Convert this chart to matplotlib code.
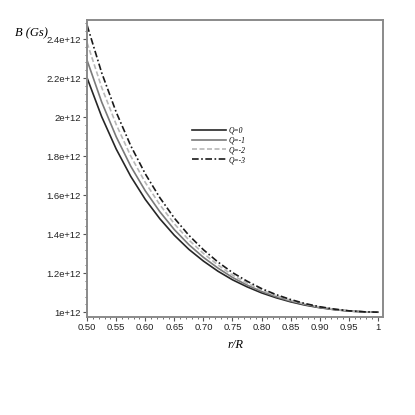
import matplotlib
matplotlib.use("Agg")
from matplotlib import pyplot as plt
from matplotlib.ticker import MultipleLocator, FixedLocator

# r/R grid and field values (units of 1e12 Gs)
r_over_R = [0.500, 0.525, 0.550, 0.575, 0.600, 0.625, 0.650, 0.675, 0.700, 0.725,
            0.750, 0.775, 0.800, 0.825, 0.850, 0.875, 0.900, 0.925, 0.950, 0.975, 1.000]
b_q0 = [2.200, 2.002, 1.836, 1.696, 1.578, 1.479, 1.394, 1.322, 1.262, 1.210, 1.166,
        1.130, 1.099, 1.074, 1.053, 1.036, 1.023, 1.013, 1.006, 1.002, 1.000]
b_q1 = [2.290, 2.077, 1.899, 1.748, 1.622, 1.515, 1.423, 1.346, 1.281, 1.226, 1.178,
        1.139, 1.106, 1.079, 1.057, 1.039, 1.025, 1.014, 1.006, 1.002, 1.000]
b_q2 = [2.380, 2.152, 1.962, 1.800, 1.665, 1.551, 1.453, 1.370, 1.301, 1.242, 1.190,
        1.149, 1.114, 1.085, 1.061, 1.042, 1.026, 1.015, 1.007, 1.002, 1.000]
b_q3 = [2.470, 2.227, 2.025, 1.853, 1.709, 1.587, 1.482, 1.394, 1.320, 1.257, 1.203,
        1.159, 1.121, 1.090, 1.065, 1.044, 1.028, 1.016, 1.007, 1.002, 1.000]
labels = ["Q=0", "Q=-1", "Q=-2", "Q=-3"]

x_ticks = [0.50, 0.55, 0.60, 0.65, 0.70, 0.75, 0.80, 0.85, 0.90, 0.95, 1.0]
x_tick_labels = ["0.50", "0.55", "0.60", "0.65", "0.70", "0.75", "0.80", "0.85", "0.90", "0.95", "1"]
y_ticks = [1.0e12, 1.2e12, 1.4e12, 1.6e12, 1.8e12, 2.0e12, 2.2e12, 2.4e12]
y_tick_labels = ["1e+12", "1.2e+12", "1.4e+12", "1.6e+12", "1.8e+12", "2e+12", "2.2e+12", "2.4e+12"]


def main():
    fig = plt.figure(figsize=(4.15, 4.15), dpi=100)
    ax = fig.add_axes([0.210, 0.236, 0.713, 0.716])

    styles = [
        dict(color="#262626", linestyle="-", linewidth=1.2),
        dict(color="#7a7a7a", linestyle="-", linewidth=1.2),
        dict(color="#b8b8b8", linestyle=(0, (3, 1.5)), linewidth=1.2),
        dict(color="#1a1a1a", linestyle=(0, (4, 1.5, 1, 1.5)), linewidth=1.2),
    ]
    for series, lab, st in zip([b_q0, b_q1, b_q2, b_q3], labels, styles):
        ax.plot(r_over_R, [v * 1e12 for v in series], label=lab, **st)

    ax.set_xlim(0.5, 1.009)
    ax.set_ylim(0.975e12, 2.498e12)

    ax.xaxis.set_major_locator(FixedLocator(x_ticks))
    ax.set_xticklabels(x_tick_labels)
    ax.yaxis.set_major_locator(FixedLocator(y_ticks))
    ax.set_yticklabels(y_tick_labels)
    ax.xaxis.set_minor_locator(MultipleLocator(0.01))
    ax.yaxis.set_minor_locator(MultipleLocator(0.04e12))
    ax.tick_params(which="major", length=3, width=0.8, color="#555555",
                   labelsize=6.8, labelcolor="#222222", pad=1.5,
                   labelfontfamily="Liberation Sans")
    ax.tick_params(which="minor", length=1.5, width=0.6, color="#555555")
    ax.tick_params(top=False, right=False)

    for sp in ax.spines.values():
        sp.set_color("#8a8a8a")
        sp.set_linewidth(1.4)

    ax.text(-0.245, 0.955, "B (Gs)", transform=ax.transAxes, fontsize=9,
            fontstyle="italic", family="Liberation Serif", ha="left", va="center")
    ax.set_xlabel("r/R", fontsize=9, fontstyle="italic", family="Liberation Serif",
                  labelpad=5)

    ax.legend(loc="upper left", bbox_to_anchor=(0.33, 0.665), frameon=False,
              handlelength=4.5, handletextpad=0.3, labelspacing=0.25,
              prop={"family": "Liberation Serif", "style": "italic", "size": 5.5})

    fig.savefig("out.png", dpi=100, facecolor="white")


if __name__ == "__main__":
    main()
